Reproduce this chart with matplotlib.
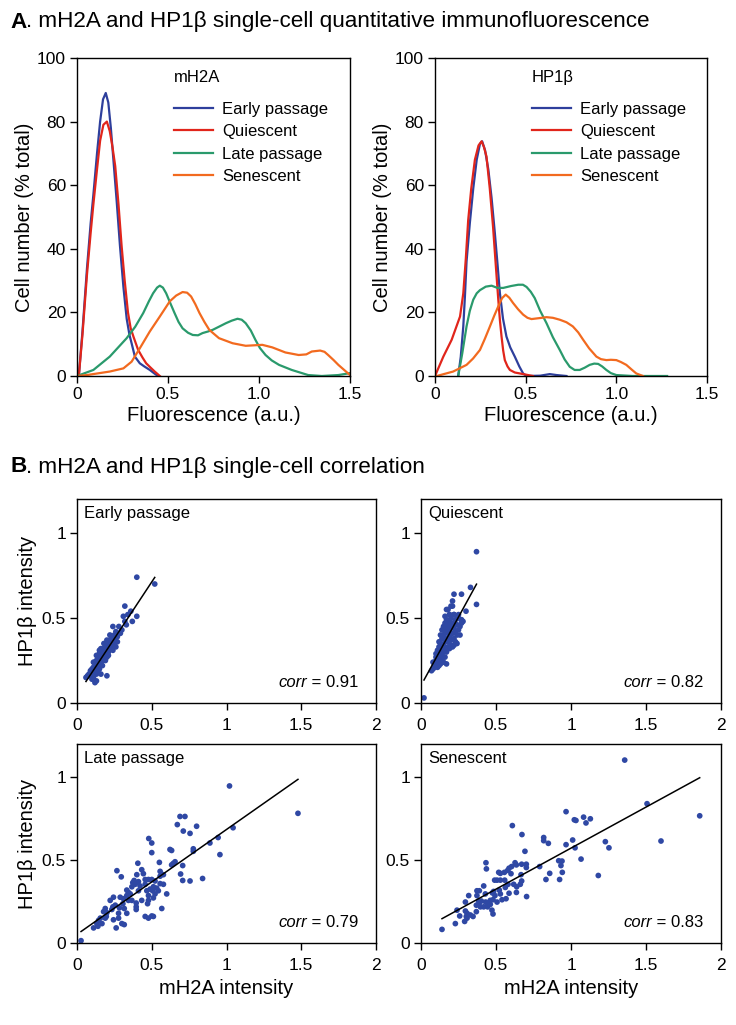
import numpy as np
import matplotlib
matplotlib.use('Agg')
import matplotlib.pyplot as plt

plt.rcParams['font.family'] = ['Liberation Sans', 'DejaVu Sans']

# ---- panel A: single-cell fluorescence distributions (% of cells) ----
series_names = ['Early passage', 'Quiescent', 'Late passage', 'Senescent']
series_colors = ['#2e3f9c', '#e1251b', '#2a9a6c', '#f26a1f']

mh2a_early_x = [0, 0.01, 0.03, 0.055, 0.075, 0.09, 0.11, 0.127, 0.143, 0.158, 0.172, 0.186, 0.2, 0.218,
                0.236, 0.255, 0.273, 0.288, 0.30, 0.318, 0.345, 0.37, 0.40, 0.425, 0.445]
mh2a_early_y = [0, 0, 14, 34, 48, 57, 70, 80, 87, 89, 86, 78, 68, 55,
                41, 28, 18, 13, 10.3, 6.1, 4, 3, 1.9, 0.8, 0]
mh2a_quies_x = [0, 0.01, 0.03, 0.055, 0.075, 0.09, 0.11, 0.127, 0.145, 0.164, 0.18, 0.195, 0.21, 0.228,
                0.245, 0.262, 0.28, 0.295, 0.31, 0.336, 0.36, 0.38, 0.405, 0.427, 0.455]
mh2a_quies_y = [0, 0, 13, 32, 45, 54, 65, 74, 79, 80, 77, 72, 66, 54,
                41, 30, 20, 15, 12.4, 8.2, 5.8, 4, 2.6, 1.4, 0]
mh2a_late_x = [0, 0.09, 0.18, 0.273, 0.32, 0.364, 0.395, 0.418, 0.44, 0.455, 0.472, 0.49, 0.512, 0.536,
               0.558, 0.58, 0.61, 0.636, 0.665, 0.69, 0.72, 0.745, 0.78, 0.818, 0.85, 0.882, 0.905,
               0.927, 0.955, 0.98, 1.005, 1.036, 1.07, 1.11, 1.18, 1.27, 1.345, 1.436, 1.5]
mh2a_late_y = [0, 1.9, 6.1, 11.9, 15.5, 19.8, 23.5, 26, 27.8, 28.4, 27.8, 26, 23, 19.8,
               17, 15, 13.6, 12.9, 12.8, 13.5, 14, 14.5, 15.5, 16.6, 17.4, 18, 17.7,
               16.6, 14.3, 11.4, 8.8, 6.6, 4.9, 3.5, 1.9, 0.3, 0, 0.3, 0.9]
mh2a_sen_x = [0, 0.055, 0.18, 0.255, 0.30, 0.345, 0.40, 0.455, 0.51, 0.545, 0.58, 0.605, 0.627, 0.65,
              0.673, 0.70, 0.727, 0.78, 0.855, 0.927, 1.018, 1.073, 1.145, 1.218, 1.26, 1.29, 1.336,
              1.36, 1.38, 1.41, 1.436, 1.47, 1.5]
mh2a_sen_y = [0, 0.3, 1.4, 2.4, 4.5, 8.7, 14, 18.7, 23.5, 25.3, 26.4, 26.2, 25, 22.6,
              19.8, 17, 14.5, 11.9, 10.3, 9.5, 9.8, 9, 7.4, 6.6, 6.8, 7.7, 8,
              7.6, 6.6, 5, 3.5, 1.8, 0.3]

hp1_early_x = [0.128, 0.142, 0.156, 0.165, 0.174, 0.192, 0.211, 0.23, 0.248, 0.26, 0.276, 0.294, 0.312,
               0.33, 0.345, 0.358, 0.375, 0.394, 0.415, 0.44, 0.465, 0.486, 0.505, 0.58, 0.633, 0.67,
               0.725]
hp1_early_y = [0, 6, 15.6, 25, 36, 48, 59, 68, 73, 73.8, 71, 65, 56,
               45, 35, 26, 18, 12.4, 9, 6.1, 3, 0.8, 0, 0.1, 0.6, 0.3,
               0]
hp1_quies_x = [0, 0.046, 0.092, 0.138, 0.156, 0.17, 0.183, 0.2, 0.22, 0.24, 0.257, 0.27, 0.284, 0.302,
               0.32, 0.335, 0.349, 0.358, 0.367, 0.376, 0.385, 0.4, 0.413, 0.44, 0.468, 0.54]
hp1_quies_y = [0, 6.1, 11.4, 18.7, 26, 37, 49, 59, 68, 72.5, 73.8, 72, 69, 59,
               47, 35, 24, 17.5, 12.4, 8, 5, 3, 1.9, 1.1, 0.8, 0]
hp1_late_x = [0.128, 0.15, 0.174, 0.192, 0.211, 0.23, 0.248, 0.28, 0.312, 0.345, 0.376, 0.42, 0.459,
              0.485, 0.505, 0.528, 0.55, 0.58, 0.615, 0.65, 0.688, 0.715, 0.743, 0.77, 0.798, 0.825,
              0.853, 0.878, 0.9, 0.922, 0.945, 0.97, 1.0, 1.09, 1.28]
hp1_late_y = [0, 7, 15.6, 20.5, 24, 26, 27, 28.1, 28.4, 27.7, 27.7, 28.3, 28.7,
              28.7, 28, 26.5, 24.5, 20.5, 16.6, 12.2, 8.2, 5.2, 2.9, 1.9, 1.9, 2.6,
              3.5, 3.9, 3.8, 3.0, 1.9, 0.9, 0.3, 0, 0]
hp1_sen_x = [0.01, 0.1, 0.174, 0.21, 0.248, 0.275, 0.303, 0.327, 0.349, 0.37, 0.39, 0.41, 0.43, 0.458,
             0.486, 0.51, 0.532, 0.575, 0.615, 0.65, 0.688, 0.725, 0.76, 0.79, 0.817, 0.85, 0.89,
             0.915, 0.945, 0.97, 1.0, 1.025, 1.055, 1.085, 1.11, 1.147]
hp1_sen_y = [0, 1.4, 3.5, 5.5, 8.2, 11.7, 15.6, 19, 21.9, 24.5, 25.6, 24.6, 23, 21,
             19.3, 18.3, 17.9, 18.2, 18.5, 18.3, 17.7, 16.9, 15.6, 13.7, 11.4, 8.7, 6.1,
             5.3, 5, 5.1, 5, 4.4, 3.5, 2, 0.8, 0]

# ---- panel B: mH2A vs HP1b per cell ----
early_mh2a = [0.40, 0.52, 0.32, 0.36, 0.34, 0.40, 0.31, 0.37, 0.32, 0.24, 0.28, 0.29, 0.26, 0.20, 0.16,
              0.12, 0.13, 0.07, 0.06, 0.09, 0.10,
              0.08, 0.09, 0.10, 0.10, 0.11, 0.11, 0.12, 0.12, 0.12, 0.13, 0.13, 0.13, 0.14, 0.14, 0.14,
              0.14, 0.15, 0.15, 0.15, 0.15, 0.16, 0.16, 0.16, 0.16, 0.17, 0.17, 0.17, 0.17, 0.18, 0.18,
              0.18, 0.18, 0.19, 0.19, 0.19, 0.20, 0.20, 0.20, 0.21, 0.21, 0.21, 0.22, 0.22, 0.22, 0.23,
              0.23, 0.24, 0.24, 0.25, 0.25, 0.26, 0.27, 0.27, 0.28, 0.26, 0.23, 0.19, 0.17, 0.15, 0.14,
              0.13, 0.11, 0.12, 0.20, 0.21, 0.24, 0.25, 0.30, 0.33, 0.11, 0.13, 0.16, 0.18, 0.20, 0.22,
              0.15]
early_hp1 = [0.74, 0.70, 0.57, 0.54, 0.52, 0.51, 0.51, 0.48, 0.48, 0.45, 0.45, 0.41, 0.36, 0.16, 0.17,
             0.12, 0.13, 0.16, 0.15, 0.19, 0.14,
             0.17, 0.16, 0.18, 0.20, 0.21, 0.19, 0.22, 0.24, 0.20, 0.23, 0.25, 0.21, 0.24, 0.26, 0.22,
             0.28, 0.25, 0.27, 0.23, 0.29, 0.26, 0.28, 0.30, 0.24, 0.27, 0.29, 0.31, 0.25, 0.28, 0.30,
             0.32, 0.26, 0.30, 0.33, 0.28, 0.31, 0.34, 0.29, 0.33, 0.35, 0.30, 0.34, 0.37, 0.32, 0.36,
             0.39, 0.35, 0.38, 0.40, 0.37, 0.42, 0.39, 0.36, 0.41, 0.33, 0.32, 0.25, 0.22, 0.20, 0.19,
             0.17, 0.15, 0.18, 0.27, 0.28, 0.31, 0.34, 0.43, 0.46, 0.24, 0.28, 0.32, 0.35, 0.37, 0.40,
             0.31]

quies_mh2a = [0.02, 0.37, 0.37, 0.33, 0.30, 0.27, 0.22, 0.21, 0.20, 0.17, 0.22, 0.19, 0.27, 0.25,
              0.07, 0.08, 0.09, 0.09, 0.10, 0.10, 0.10, 0.11, 0.11, 0.11, 0.12, 0.12, 0.12, 0.12, 0.13,
              0.13, 0.13, 0.13, 0.14, 0.14, 0.14, 0.14, 0.14, 0.15, 0.15, 0.15, 0.15, 0.15, 0.16, 0.16,
              0.16, 0.16, 0.16, 0.17, 0.17, 0.17, 0.17, 0.17, 0.18, 0.18, 0.18, 0.18, 0.18, 0.19, 0.19,
              0.19, 0.19, 0.20, 0.20, 0.20, 0.20, 0.21, 0.21, 0.21, 0.22, 0.22, 0.22, 0.23, 0.23, 0.23,
              0.24, 0.24, 0.24, 0.25, 0.25, 0.26, 0.27, 0.27, 0.28, 0.13, 0.12, 0.11, 0.10, 0.08, 0.19,
              0.21, 0.16, 0.22, 0.26]
quies_hp1 = [0.03, 0.89, 0.58, 0.68, 0.54, 0.64, 0.64, 0.60, 0.57, 0.55, 0.52, 0.52, 0.48, 0.52,
             0.19, 0.20, 0.21, 0.23, 0.22, 0.25, 0.27, 0.21, 0.24, 0.28, 0.22, 0.26, 0.30, 0.33, 0.23,
             0.27, 0.31, 0.35, 0.25, 0.29, 0.33, 0.38, 0.43, 0.24, 0.30, 0.34, 0.40, 0.45, 0.27, 0.32,
             0.36, 0.42, 0.47, 0.23, 0.30, 0.38, 0.44, 0.49, 0.33, 0.36, 0.41, 0.46, 0.55, 0.32, 0.39,
             0.43, 0.48, 0.34, 0.37, 0.45, 0.50, 0.33, 0.41, 0.47, 0.38, 0.44, 0.52, 0.36, 0.42, 0.49,
             0.35, 0.40, 0.46, 0.43, 0.50, 0.45, 0.47, 0.49, 0.48, 0.40, 0.36, 0.31, 0.29, 0.24, 0.52,
             0.57, 0.51, 0.34, 0.40]

late_mh2a = [0.027, 1.02, 1.478, 1.044, 0.944, 0.956, 0.889, 0.80, 0.756, 0.711, 0.689, 0.722, 0.671,
             0.778, 0.778, 0.622, 0.633, 0.644, 0.656, 0.633, 0.707, 0.693, 0.707, 0.756, 0.84, 0.48,
             0.50, 0.50, 0.551, 0.407, 0.433, 0.40, 0.267, 0.296, 0.382, 0.389, 0.373, 0.411, 0.456,
             0.478, 0.522, 0.556, 0.578, 0.556, 0.511, 0.533, 0.489, 0.467, 0.506, 0.544, 0.60, 0.522,
             0.478, 0.511, 0.478, 0.433, 0.472, 0.411, 0.367, 0.344, 0.333, 0.367, 0.396, 0.396, 0.396,
             0.333, 0.311, 0.289, 0.307, 0.316, 0.284, 0.244, 0.256, 0.278, 0.333, 0.24, 0.233, 0.189,
             0.20, 0.178, 0.196, 0.156, 0.144, 0.133, 0.111, 0.14, 0.167, 0.189, 0.244, 0.262, 0.30,
             0.316, 0.278, 0.456, 0.478, 0.567, 0.511, 0.50, 0.444, 0.456, 0.422, 0.578, 0.556, 0.50,
             0.344, 0.222, 0.356]
late_hp1 = [0.014, 0.947, 0.782, 0.695, 0.636, 0.533, 0.603, 0.704, 0.661, 0.675, 0.763, 0.763, 0.714,
            0.568, 0.553, 0.564, 0.558, 0.48, 0.49, 0.471, 0.467, 0.416, 0.377, 0.374, 0.389, 0.63,
            0.603, 0.545, 0.486, 0.481, 0.442, 0.412, 0.436, 0.399, 0.377, 0.354, 0.364, 0.37, 0.383,
            0.383, 0.374, 0.403, 0.412, 0.358, 0.339, 0.331, 0.325, 0.315, 0.315, 0.315, 0.296, 0.296,
            0.286, 0.272, 0.257, 0.257, 0.237, 0.315, 0.339, 0.305, 0.286, 0.257, 0.241, 0.218, 0.202,
            0.319, 0.267, 0.276, 0.237, 0.208, 0.212, 0.276, 0.228, 0.179, 0.179, 0.218, 0.202, 0.208,
            0.183, 0.189, 0.16, 0.15, 0.136, 0.117, 0.091, 0.101, 0.117, 0.15, 0.14, 0.091, 0.117,
            0.111, 0.15, 0.16, 0.15, 0.208, 0.16, 0.163, 0.418, 0.354, 0.344, 0.354, 0.432, 0.383,
            0.257, 0.257, 0.296]

sen_mh2a = [0.14, 1.358, 1.507, 1.858, 1.60, 1.229, 1.253, 1.182, 1.067, 0.967, 1.022, 1.033, 1.084,
            1.10, 1.129, 1.011, 0.967, 1.027, 0.918, 0.94, 0.933, 0.942, 0.924, 0.858, 0.833, 0.791,
            0.818, 0.818, 0.849, 0.609, 0.673, 0.693, 0.702, 0.702, 0.704, 0.671, 0.667, 0.671, 0.636,
            0.627, 0.604, 0.587, 0.60, 0.578, 0.556, 0.529, 0.518, 0.507, 0.529, 0.433, 0.436, 0.558,
            0.58, 0.562, 0.587, 0.567, 0.54, 0.636, 0.638, 0.491, 0.522, 0.484, 0.476, 0.493, 0.462,
            0.48, 0.444, 0.462, 0.431, 0.429, 0.418, 0.389, 0.373, 0.402, 0.387, 0.369, 0.384, 0.473,
            0.48, 0.444, 0.296, 0.318, 0.296, 0.307, 0.329, 0.302, 0.347, 0.369, 0.291, 0.229, 0.24,
            0.258, 0.307, 0.373, 0.418, 0.396, 0.507, 0.529, 0.618, 0.662]
sen_hp1 = [0.082, 1.103, 0.84, 0.767, 0.615, 0.611, 0.574, 0.407, 0.506, 0.792, 0.743, 0.739, 0.759,
           0.724, 0.749, 0.621, 0.593, 0.574, 0.496, 0.494, 0.467, 0.426, 0.383, 0.42, 0.383, 0.461,
           0.636, 0.617, 0.601, 0.708, 0.654, 0.553, 0.475, 0.455, 0.28, 0.475, 0.412, 0.374, 0.471,
           0.484, 0.461, 0.451, 0.418, 0.438, 0.426, 0.42, 0.426, 0.379, 0.379, 0.484, 0.447, 0.379,
           0.354, 0.335, 0.30, 0.267, 0.261, 0.305, 0.339, 0.379, 0.319, 0.311, 0.302, 0.286, 0.257,
           0.261, 0.241, 0.233, 0.247, 0.296, 0.344, 0.315, 0.315, 0.253, 0.237, 0.228, 0.253, 0.198,
           0.175, 0.218, 0.247, 0.286, 0.193, 0.179, 0.169, 0.16, 0.16, 0.189, 0.13, 0.117, 0.198,
           0.163, 0.15, 0.286, 0.218, 0.218, 0.247, 0.296, 0.354, 0.354]

corr_labels = ['0.91', '0.82', '0.79', '0.83']

W, H = 736, 1025
fig = plt.figure(figsize=(W / 100, H / 100), dpi=100)


def fbox(left, top, right, bottom):
    return [left / W, 1 - bottom / H, (right - left) / W, (bottom - top) / H]


tick_fs = 12.5
label_fs = 14.5
dot_color = '#2f48a4'


def style_axes(ax, xpad=3):
    for s in ax.spines.values():
        s.set_linewidth(1.0)
    ax.tick_params(direction='out', length=5, width=1, labelsize=tick_fs, pad=3,
                   top=False, right=False)
    ax.tick_params(axis='x', pad=xpad)


# density panels
dens = [
    ('mH2A', [(mh2a_early_x, mh2a_early_y), (mh2a_quies_x, mh2a_quies_y),
              (mh2a_late_x, mh2a_late_y), (mh2a_sen_x, mh2a_sen_y)], fbox(77, 58, 350, 376)),
    ('HP1β', [(hp1_early_x, hp1_early_y), (hp1_quies_x, hp1_quies_y),
              (hp1_late_x, hp1_late_y), (hp1_sen_x, hp1_sen_y)], fbox(435, 58, 707, 376)),
]
for name, curves, box in dens:
    ax = fig.add_axes(box)
    for (xs, ys), lab, col in zip(curves, series_names, series_colors):
        ax.plot(xs, ys, color=col, lw=1.6, label=lab, solid_joinstyle='round')
    ax.set_xlim(0, 1.5)
    ax.set_ylim(0, 100)
    ax.set_xticks([0, 0.5, 1.0, 1.5])
    ax.set_xticklabels(['0', '0.5', '1.0', '1.5'])
    ax.set_yticks([0, 20, 40, 60, 80, 100])
    ax.set_xlabel('Fluorescence (a.u.)', fontsize=label_fs, labelpad=3)
    ax.set_ylabel('Cell number (% total)', fontsize=label_fs, labelpad=2)
    style_axes(ax)
    leg = ax.legend(title=name, loc='upper left', bbox_to_anchor=(0.355, 0.962),
                    frameon=False, fontsize=12, title_fontsize=12, borderpad=0,
                    borderaxespad=0, handlelength=2.35, handletextpad=0.55,
                    labelspacing=0.45, alignment='left')
    leg._legend_box.sep = 12

# scatter panels
scat = [
    ('Early passage', early_mh2a, early_hp1, fbox(77, 499, 376, 703)),
    ('Quiescent', quies_mh2a, quies_hp1, fbox(421, 499, 721, 703)),
    ('Late passage', late_mh2a, late_hp1, fbox(77, 744, 376, 943)),
    ('Senescent', sen_mh2a, sen_hp1, fbox(421, 744, 721, 943)),
]
for i, (name, xs, ys, box) in enumerate(scat):
    ax = fig.add_axes(box)
    xs = np.array(xs)
    ys = np.array(ys)
    ax.scatter(xs, ys, s=17, color=dot_color, edgecolors='none', zorder=2)
    k, b = np.polyfit(xs, ys, 1)
    xl = np.array([xs.min(), xs.max()])
    ax.plot(xl, k * xl + b, color='black', lw=1.1, zorder=3)
    ax.set_xlim(0, 2)
    ax.set_ylim(0, 1.2)
    ax.set_xticks([0, 0.5, 1, 1.5, 2])
    ax.set_xticklabels(['0', '0.5', '1', '1.5', '2'])
    ax.set_yticks([0, 0.5, 1])
    ax.set_yticklabels(['0', '0.5', '1'])
    style_axes(ax, xpad=6)
    ax.text(0.025, 0.965, name, transform=ax.transAxes, ha='left', va='top', fontsize=12)
    t = ax.text(0.94, 0.065, ' = ' + corr_labels[i], transform=ax.transAxes,
                ha='right', va='bottom', fontsize=12)
    ax.annotate('corr', xy=(0, 0), xycoords=t, ha='right', va='bottom',
                fontsize=12, style='italic')
    if i % 2 == 0:
        ax.set_ylabel('HP1β intensity', fontsize=label_fs, labelpad=3)
    if i >= 2:
        ax.set_xlabel('mH2A intensity', fontsize=label_fs, labelpad=4)

# section titles
for letter, rest, ypx in [('A', '. mH2A and HP1β single-cell quantitative immunofluorescence', 22),
                          ('B', '. mH2A and HP1β single-cell correlation', 467)]:
    t1 = fig.text(10 / W, 1 - ypx / H, letter, fontsize=16.2, fontweight='bold',
                  ha='left', va='center')
    fig.axes[0].annotate(rest, xy=(1, 0), xycoords=t1, ha='left', va='bottom',
                         fontsize=16.2, annotation_clip=False)

fig.savefig('out.png', dpi=100)
